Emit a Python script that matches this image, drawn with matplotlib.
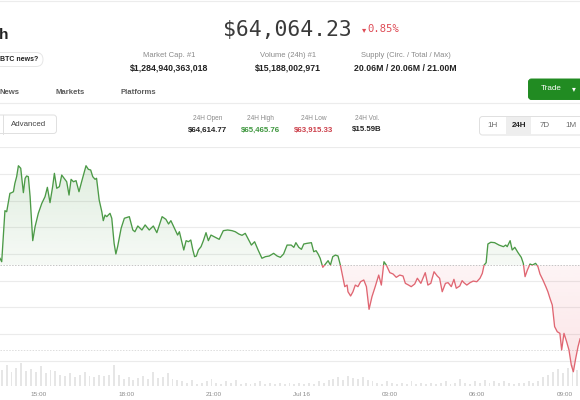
import numpy as np
import matplotlib.pyplot as plt
from matplotlib.patches import FancyBboxPatch, Rectangle
from matplotlib.path import Path

plt.rcParams['font.family'] = ['Liberation Sans', 'DejaVu Sans']

# price line, hours since Jul 15 00:00 and USD
times = [13.69, 13.75, 13.86, 13.92, 14.03, 14.09, 14.15, 14.20, 14.26, 14.32,
         14.40, 14.49, 14.55, 14.60, 14.66, 14.72, 14.81, 14.89, 15.00, 15.12,
         15.23, 15.31, 15.40, 15.49, 15.55, 15.63, 15.72, 15.80, 15.88, 15.97,
         16.05, 16.12, 16.20, 16.29, 16.39, 16.48, 16.56, 16.63, 16.71, 16.79,
         16.86, 16.94, 16.99, 17.08, 17.17, 17.22, 17.28, 17.34, 17.39, 17.45,
         17.51, 17.59, 17.65, 17.71, 17.83, 17.94, 18.11, 18.23, 18.30, 18.40,
         18.54, 18.65, 18.79, 18.93, 19.05, 19.23, 19.36, 19.45, 19.53, 19.68,
         19.76, 19.82, 19.90, 19.97, 20.05, 20.13, 20.21, 20.28, 20.34, 20.40,
         20.47, 20.56, 20.64, 20.73, 20.81, 20.90, 21.05, 21.18, 21.32, 21.47,
         21.62, 21.73, 21.85, 21.96, 22.07, 22.19, 22.28, 22.39, 22.51, 22.64,
         22.76, 22.89, 23.04, 23.16, 23.27, 23.38, 23.50, 23.64, 23.73, 23.80,
         23.90, 23.99, 24.07, 24.18, 24.33, 24.41, 24.49, 24.56, 24.63, 24.72,
         24.81, 24.90, 24.98, 25.06, 25.15, 25.24, 25.32, 25.40, 25.47, 25.55,
         25.58, 25.67, 25.75, 25.83, 25.92, 26.01, 26.12, 26.21, 26.30, 26.40,
         26.51, 26.63, 26.72, 26.81, 26.89, 27.01, 27.12, 27.23, 27.35, 27.46,
         27.54, 27.65, 27.74, 27.86, 27.95, 28.07, 28.22, 28.31, 28.41, 28.52,
         28.63, 28.71, 28.80, 28.91, 29.00, 29.11, 29.20, 29.28, 29.40, 29.48,
         29.54, 29.64, 29.75, 29.86, 29.98, 30.09, 30.17, 30.23, 30.30, 30.36,
         30.46, 30.59, 30.74, 30.89, 30.97, 31.02, 31.12, 31.19, 31.28, 31.39,
         31.50, 31.57, 31.63, 31.71, 31.80, 31.88, 31.99, 32.07, 32.14, 32.24,
         32.34, 32.41, 32.48, 32.56, 32.64, 32.73, 32.82, 32.88, 32.96, 33.05,
         33.13, 33.21, 33.28, 33.36, 33.44, 33.51]
prices = [64668, 64642, 65025, 65017, 65155, 65160, 65167, 65230, 65280, 65362,
          65343, 65160, 65268, 65285, 65280, 65130, 64800, 64905, 65005, 65080,
          65130, 65200, 65085, 65205, 65305, 65193, 65205, 65292, 65268, 65242,
          65142, 65260, 65242, 65250, 65167, 65242, 65305, 65362, 65335, 65330,
          65280, 65260, 65268, 65105, 65017, 64950, 64992, 64980, 64992, 65005,
          64968, 64780, 64700, 64755, 64893, 64968, 64980, 64880, 64867, 64910,
          64880, 64918, 64880, 64910, 64860, 64980, 64960, 64925, 64950, 64880,
          64842, 64867, 64792, 64730, 64800, 64792, 64805, 64730, 64680, 64685,
          64730, 64755, 64800, 64860, 64800, 64842, 64825, 64810, 64875, 64880,
          64875, 64867, 64850, 64840, 64855, 64805, 64767, 64792, 64730, 64668,
          64680, 64685, 64705, 64685, 64675, 64700, 64767, 64767, 64750, 64785,
          64750, 64735, 64775, 64780, 64785, 64717, 64725, 64700, 64668, 64600,
          64625, 64650, 64617, 64680, 64692, 64685, 64617, 64530, 64455, 64467,
          64417, 64385, 64417, 64467, 64455, 64492, 64505, 64455, 64285, 64380,
          64455, 64542, 64467, 64642, 64617, 64560, 64550, 64525, 64542, 64535,
          64480, 64467, 64455, 64475, 64518, 64480, 64560, 64467, 64480, 64567,
          64535, 64518, 64417, 64480, 64485, 64455, 64510, 64443, 64460, 64500,
          64485, 64467, 64485, 64497, 64492, 64518, 64555, 64617, 64635, 64775,
          64788, 64785, 64767, 64755, 64767, 64755, 64800, 64730, 64750, 64710,
          64675, 64630, 64530, 64580, 64625, 64617, 64630, 64605, 64550, 64505,
          64455, 64417, 64368, 64317, 64155, 64117, 64105, 63980, 64105, 64042,
          63980, 63867, 63817, 63917, 64005, 64064]

# volume bars every 10 minutes from 13:45, $M (rough)
vol_start = 13.75
vol = [140, 180, 120, 160, 200, 130, 150, 120, 170, 110, 140, 130,
       100, 90, 110, 80, 100, 120, 90, 80, 100, 90, 100,
       180, 100,
       60, 80, 50, 70, 90, 60, 120, 70, 80, 110, 60, 50,
       40, 30, 50, 20, 30, 40, 60, 30, 20, 40, 30, 50, 20, 30, 20, 30, 40, 20, 30, 20, 30, 20, 30,
       20, 30, 20, 30, 20, 40, 30, 50,
       60, 80, 50, 90, 70, 60, 80, 50, 40,
       30, 20, 40, 30, 20, 30, 20, 40, 20, 30, 20, 30, 20, 30, 40, 20, 30,
       60, 30, 20, 40, 30, 50, 30, 40,
       30, 40, 30, 20, 30, 30, 40, 30, 40,
       80, 100, 120, 150, 110, 160, 180, 140]

open_price = 64614.77
low_ref = 63980
grid_levels = [63900, 64100, 64300, 64500, 64700, 64900, 65100, 65300, 65500]
tick_hours = [15, 18, 21, 24, 27, 30, 33]
tick_labels = ['15:00', '18:00', '21:00', 'Jul 16', '03:00', '06:00', '09:00']

head_labels = ['Market Cap. #1', 'Volume (24h) #1', 'Supply (Circ. / Total / Max)']
head_values = ['$1,284,940,363,018', '$15,188,002,971', '20.06M / 20.06M / 21.00M']
tabs = ['News', 'Markets', 'Platforms']
stat_labels = ['24H Open', '24H High', '24H Low', '24H Vol.']
stat_values = ['$64,614.77', '$65,465.76', '$63,915.33', '$15.59B']
ranges = ['1H', '24H', '7D', '1M']

green = '#4c9a47'
red = '#e06672'

fig = plt.figure(figsize=(5.8, 4), dpi=100)
page = fig.add_axes([0, 0, 1, 1])
page.set_xlim(0, 580)
page.set_ylim(400, 0)
page.axis('off')


def txt(x, y, s, size, color='#222222', weight='normal', ha='center', **kw):
    page.text(x, y, s, fontsize=size, color=color, fontweight=weight,
              ha=ha, va='center', **kw)


def box(x0, y0, x1, y1, fc='white', ec='#e2e2e2', r=3, lw=0.7):
    page.add_patch(FancyBboxPatch((x0, y0), x1 - x0, y1 - y0,
                                  boxstyle='round,pad=0,rounding_size=%s' % r,
                                  fc=fc, ec=ec, lw=lw))


# header
page.axhline(0.5, color='#ececec', lw=0.8)
txt(-1, 35, 'h', 11, weight='bold', ha='left')
txt(287, 30, '$64,064.23', 15.4, color='#3a3a3a', family='DejaVu Sans Mono')
txt(364, 29.5, '\u25be', 6, color='#de4b55', family='DejaVu Sans')
txt(367.5, 29.5, '0.85%', 7.6, color='#de4b55', ha='left', family='DejaVu Sans Mono')

box(-12, 52.5, 43, 66.5, r=7, ec='#e6e6e6')
txt(0, 59.5, 'BTC news?', 5.0, weight='bold', ha='left')

for cx, lab, val in zip([169, 288, 405.5], head_labels, head_values):
    txt(cx, 55.5, lab, 5.5, color='#8a8a8a')
    txt(cx, 68.5, val, 6.3, weight='bold')

for x, t in zip([0, 55, 120.5], tabs):
    txt(x, 92.5, t, 5.6, color='#5c5c5c', weight='bold', ha='left')
page.axhline(103.3, color='#ececec', lw=0.8)

box(528.5, 79, 592, 99.5, fc='#218b22', ec='#218b22', r=3)
txt(551.5, 89, 'Trade', 5.8, color='white')
txt(573.5, 89, '\u25be', 5.5, color='white', family='DejaVu Sans')

# chart toolbar
box(-12, 115, 56.5, 133.5, ec='#e0e0e0')
page.plot([2.7, 2.7], [115, 133.5], color='#e0e0e0', lw=0.7)
txt(29, 124.3, 'Advanced', 5.7, color='#444444')

for cx, lab, val, c in zip([207.5, 260.5, 313.5, 367], stat_labels, stat_values,
                           ['#222222', '#3d963d', '#cc3f4a', '#222222']):
    txt(cx, 118.3, lab, 4.7, color='#8a8a8a')
    txt(cx, 130, val, 5.7, color=c, weight='bold')

box(479.5, 116.5, 595, 135, ec='#e0e0e0')
page.add_patch(Rectangle((506, 117), 24.7, 17.5, fc='#eeeeee', ec='none'))
for cx, r in zip([492.7, 519, 545, 571], ranges):
    on = r == '24H'
    txt(cx, 125.5, r, 5.8, color='#222222' if on else '#6a6a6a',
        weight='bold' if on else 'normal')

# price chart
ax = fig.add_axes([0, 1 - 386 / 400, 1, (386 - 147.33) / 400])
axv = ax.twinx()
ax.set_zorder(2)
axv.set_zorder(1)
ax.patch.set_visible(False)

t = np.array(times)
p = np.array(prices)


def gradient_fill(mask, rgb, a_near, a_far, far):
    coll = ax.fill_between(t, p, open_price, where=mask, interpolate=True,
                           fc='none', ec='none')
    path = Path.make_compound_path(*coll.get_paths())
    lo, hi = sorted([open_price, far])
    alpha = np.linspace(a_near, a_far, 256) if far > open_price else np.linspace(a_far, a_near, 256)
    img = np.zeros((256, 1, 4))
    img[..., :3] = rgb
    img[:, 0, 3] = alpha
    im = ax.imshow(img, extent=[t[0], t[-1], lo, hi], origin='lower',
                   aspect='auto', zorder=1, interpolation='bilinear')
    im.set_clip_path(path, transform=ax.transData)


gradient_fill(p >= open_price, (0.30, 0.60, 0.28), 0.05, 0.17, p.max())
gradient_fill(p <= open_price, (0.92, 0.40, 0.46), 0.07, 0.18, p.min())

for lv in grid_levels:
    ax.axhline(lv, color='#ebebeb', lw=0.8, zorder=0)
ax.axhline(open_price, color='#c4c4c4', lw=0.7, ls=(0, (1.5, 1.5)), zorder=2)
ax.axhline(low_ref, color='#dddddd', lw=0.7, ls=(0, (1.5, 1.5)), zorder=0)

for c, lo, hi in [(green, open_price, 1e6), (red, -1e6, open_price)]:
    ln, = ax.plot(t, p, color=c, lw=0.95, zorder=3, solid_joinstyle='round')
    ln.set_clip_path(Rectangle((0, lo), 100, hi - lo, transform=ax.transData))

vt = vol_start + np.arange(len(vol)) / 6
axv.bar(vt, vol, width=0.065, color='#e6e6e6', align='center')
axv.set_ylim(0, 200 * 238.67 / 23)

ax.set_xlim(13.6915, 33.507)
ax.set_ylim(63710, 65500)
ax.set_xticks(tick_hours, tick_labels)
ax.tick_params(axis='x', length=0, pad=4, labelsize=4.6, labelcolor='#8a8a8a')
ax.set_yticks([])
axv.set_yticks([])
for a in (ax, axv):
    for s in a.spines.values():
        s.set_visible(False)

fig.savefig('out.png', dpi=100)
